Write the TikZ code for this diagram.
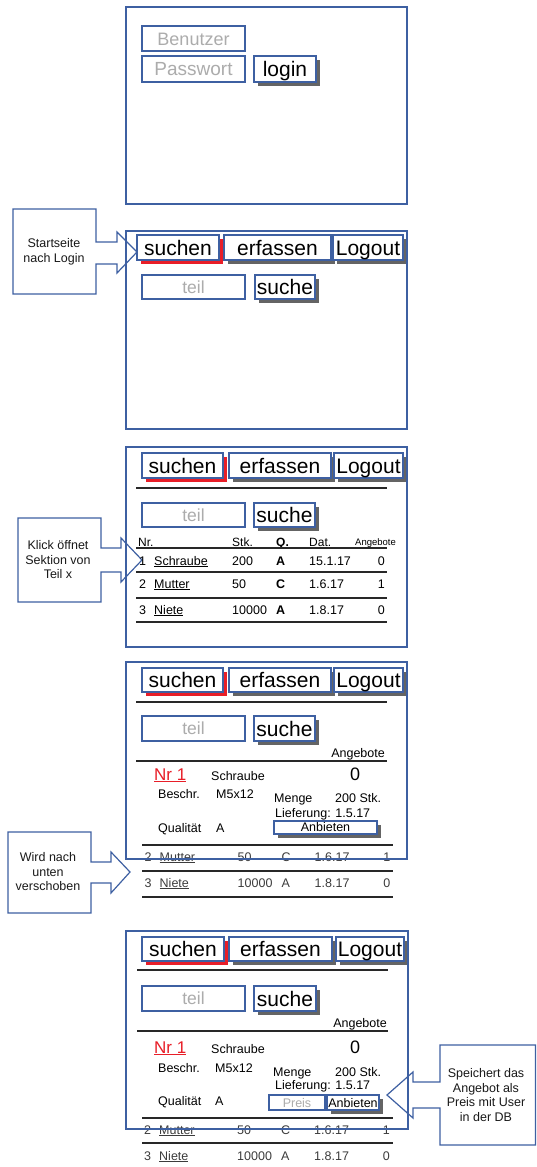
\documentclass[tikz,border=0pt]{standalone}
\usepackage{fontspec}
\setmainfont{Liberation Sans}
\definecolor{uiblue}{RGB}{62,96,162}
\definecolor{uired}{RGB}{232,30,40}
\definecolor{shgray}{RGB}{100,100,100}
\definecolor{phgray}{RGB}{172,172,172}
\definecolor{lineblack}{RGB}{40,40,40}
\definecolor{rowgray}{RGB}{60,60,60}
\definecolor{calltext}{RGB}{25,25,25}
\newcommand{\fBtn}{\fontsize{21}{24}\selectfont}
\newcommand{\fFld}{\fontsize{17.5}{20}\selectfont}
\newcommand{\fSm}{\fontsize{12.5}{14.5}\selectfont}
\newcommand{\fHd}{\fontsize{12}{14}\selectfont}
\newcommand{\fTn}{\fontsize{9.5}{11}\selectfont}
\newcommand{\fBig}{\fontsize{17}{20}\selectfont}
\newcommand{\fZero}{\fontsize{18}{20}\selectfont}
\newcommand{\fCall}{\fontsize{12.5}{14.5}\selectfont}
% button: name, x1, y1, x2, y2, shadow colour, text, font, baseline offset
\newcommand{\uibtn}[9]{%
  \fill[#6] (#2+4,#3+4) rectangle (#4+4,#5+4);
  \draw[boxline] (#2,#3) rectangle (#4,#5);
  \node[lbl,anchor=base,font=#8] (#1) at ({(#2+#4)/2},{(#3+#5)/2+#9}) {#7};
}
% field: name, x1, y1, x2, y2, placeholder, font, baseline offset
\newcommand{\uifield}[8]{%
  \draw[boxline] (#2,#3) rectangle (#4,#5);
  \node[lbl,anchor=base,font=#7,text=phgray] (#1) at ({(#2+#4)/2},{(#3+#5)/2+#8}) {#6};
}
% table row: prefix, baseline, nr, name, stk, q, dat, angebote
\newcommand{\trow}[8]{%
  \node[cell,anchor=base west] (#1n) at (139,#2) {#3};
  \node[cell,anchor=base west] (#1m) at (154,#2) {\underline{#4}};
  \node[cell,anchor=base west] (#1s) at (232,#2) {#5};
  \node[cell,qcol,anchor=base west] (#1q) at (276,#2) {#6};
  \node[cell,anchor=base west] (#1d) at (309,#2) {#7};
  \node[cell,anchor=base east] (#1a) at (385,#2) {#8};
}
\begin{document}
\begin{tikzpicture}[x=1pt,y=-1pt,
  lbl/.style={inner sep=0pt},
  boxline/.style={draw=uiblue,fill=white,line width=1.2pt},
  framebox/.style={draw=uiblue,line width=1.3pt},
  sepline/.style={draw=lineblack,line width=1.5pt},
  tabline/.style={draw=lineblack,line width=1.5pt},
  callout/.style={draw=uiblue,fill=white,line width=1.2pt,line join=miter},
  calltxt/.style={inner sep=0pt,align=center,font=\fCall,text=calltext},
  rowtxt/.style={},
  qcol/.style={font=\fSm\bfseries},
  cell/.style={inner sep=0pt,font=\fSm,rowtxt},
  small/.style={inner sep=0pt,font=\fSm,anchor=base west}]
\useasboundingbox[fill=white] (0,0) rectangle (536,1167);

% ---------- Frame 1: login ----------
\uifield{benutzer}{142}{26}{245}{51}{Benutzer}{\fontsize{18}{20}\selectfont}{6.5}
\uifield{passwort}{142}{56}{245}{82}{Passwort}{\fontsize{19}{21}\selectfont}{6.8}
\uibtn{login}{254}{56}{316}{82}{shgray}{login}{\fBtn}{7.2}

% ---------- Frame 2: start page ----------
\draw[callout] (13,209) -- (96,209) -- (96,242) -- (117,242) -- (117,232) -- (137,252)
  -- (117,273) -- (117,264) -- (96,264) -- (96,294) -- (13,294) -- cycle;
\node[calltxt] (c1) at (54,252) {Startseite\\nach Login};
\uibtn{s2}{137}{235}{219}{260}{uired}{suchen}{\fBtn}{7.5}
\uibtn{e2}{224}{235}{331}{260}{shgray}{erfassen}{\fBtn}{7.5}
\uibtn{l2}{333}{235}{403}{260}{shgray}{Logout}{\fBtn}{7.5}
\uifield{t2}{142}{275}{245}{299}{teil}{\fFld}{6.2}
\uibtn{q2}{255}{275}{315}{299}{shgray}{suche}{\fBtn}{7.5}

% ---------- Frame 3: result list ----------
\draw[callout] (18,518) -- (101,518) -- (101,548) -- (121,548) -- (121,538) -- (142,560)
  -- (121,582) -- (121,572) -- (101,572) -- (101,602) -- (18,602) -- cycle;
\node[calltxt] (c2) at (58,560) {Klick öffnet\\Sektion von\\Teil x};
\uibtn{s3}{142}{453}{223}{478}{uired}{suchen}{\fBtn}{7.5}
\uibtn{e3}{229}{453}{331}{478}{shgray}{erfassen}{\fBtn}{7.5}
\uibtn{l3}{334}{453}{403}{478}{shgray}{Logout}{\fBtn}{7.5}
\draw[sepline] (136,488) -- (387,488);
\uifield{t3}{142}{503}{245}{527}{teil}{\fFld}{6.2}
\uibtn{q3}{254}{503}{315}{527}{shgray}{suche}{\fBtn}{7.5}
\node[lbl,anchor=base west,font=\fHd] (h1) at (138,546) {Nr.};
\node[lbl,anchor=base west,font=\fHd] (h2) at (232,546) {Stk.};
\node[lbl,anchor=base west,font=\fHd\bfseries] (h3) at (276,546) {Q.};
\node[lbl,anchor=base west,font=\fHd] (h4) at (309,546) {Dat.};
\node[lbl,anchor=base west,font=\fTn] (h5) at (355,545) {Angebote};
\draw[tabline] (136,548) -- (387,548);
\trow{r31}{565}{1}{Schraube}{200}{A}{15.1.17}{0}
\draw[tabline] (136,572) -- (387,572);
\trow{r32}{588}{2}{Mutter}{50}{C}{1.6.17}{1}
\draw[tabline] (136,598) -- (387,598);
\trow{r33}{614}{3}{Niete}{10000}{A}{1.8.17}{0}
\draw[tabline] (136,622) -- (387,622);

% ---------- Frame 4: opened section ----------
\draw[callout] (8,832) -- (91,832) -- (91,862) -- (111,862) -- (111,852) -- (130,872)
  -- (111,893) -- (111,883) -- (91,883) -- (91,913) -- (8,913) -- cycle;
\node[calltxt] (c3) at (48,872) {Wird nach\\unten\\verschoben};
\uibtn{s4}{142}{668}{223}{692}{uired}{suchen}{\fBtn}{7.5}
\uibtn{e4}{229}{668}{331}{692}{shgray}{erfassen}{\fBtn}{7.5}
\uibtn{l4}{334}{668}{403}{692}{shgray}{Logout}{\fBtn}{7.5}
\draw[sepline] (136,702) -- (387,702);
\uifield{t4}{142}{716}{245}{741}{teil}{\fFld}{6.2}
\uibtn{q4}{254}{716}{315}{741}{shgray}{suche}{\fBtn}{7.5}
\node[lbl,anchor=base east,font=\fSm] (a4) at (385,757) {Angebote};
\draw[sepline] (136,761) -- (387,761);
\node[lbl,anchor=base west,font=\fBig,text=uired] (nr4) at (154,780) {\underline{Nr 1}};
\node[small] (sc4) at (211,780) {Schraube};
\node[lbl,anchor=base west,font=\fZero] (z4) at (350,780) {0};
\node[small] (b4) at (158,798) {Beschr.};
\node[small] (m4) at (216,798) {M5x12};
\node[small] (me4) at (274,802) {Menge};
\node[small] (st4) at (335,802) {200 Stk.};
\node[small] (li4) at (275,817) {Lieferung: 1.5.17};
\node[small] (qu4) at (158,832) {Qualität};
\node[small] (qa4) at (216,832) {A};
\uibtn{an4}{274}{821}{377}{834}{shgray}{Anbieten}{\fSm}{4}
\begin{scope}[xshift=5.5pt,rowtxt/.style={text=rowgray},qcol/.style={}]
  \draw[tabline] (136.5,845) -- (387.5,845);
  \trow{r42}{861}{2}{Mutter}{50}{C}{1.6.17}{1}
  \draw[tabline] (136.5,871) -- (387.5,871);
  \trow{r43}{887}{3}{Niete}{10000}{A}{1.8.17}{0}
  \draw[tabline] (136.5,897) -- (387.5,897);
\end{scope}

% ---------- Frame 5: offer ----------
\draw[callout] (535.4,1045) -- (440,1045) -- (440,1082) -- (413,1082) -- (413,1072) -- (387,1095)
  -- (413,1118) -- (413,1108) -- (440,1108) -- (440,1145) -- (535.4,1145) -- cycle;
\node[calltxt] (c4) at (486,1095) {Speichert das\\Angebot als\\Preis mit User\\in der DB};
\uibtn{s5}{142}{937}{224}{961}{uired}{suchen}{\fBtn}{7.5}
\uibtn{e5}{229}{937}{332}{961}{shgray}{erfassen}{\fBtn}{7.5}
\uibtn{l5}{336}{937}{404}{961}{shgray}{Logout}{\fBtn}{7.5}
\draw[sepline] (137,970) -- (388,970);
\uifield{t5}{142}{986}{245}{1011}{teil}{\fFld}{6.2}
\uibtn{q5}{254}{986}{316}{1011}{shgray}{suche}{\fBtn}{7.5}
\node[lbl,anchor=base east,font=\fSm] (a5) at (387,1027) {Angebote};
\draw[sepline] (137,1031) -- (388,1031);
\node[lbl,anchor=base west,font=\fBig,text=uired] (nr5) at (154,1053) {\underline{Nr 1}};
\node[small] (sc5) at (211,1053) {Schraube};
\node[lbl,anchor=base west,font=\fZero] (z5) at (350,1053) {0};
\node[small] (b5) at (158,1072) {Beschr.};
\node[small] (m5) at (215,1072) {M5x12};
\node[small] (me5) at (273,1076) {Menge};
\node[small] (st5) at (335,1076) {200 Stk.};
\node[small] (li5) at (275,1089) {Lieferung: 1.5.17};
\node[small] (qu5) at (158,1105) {Qualität};
\node[small] (qa5) at (215,1105) {A};
\uifield{p5}{269}{1095}{325}{1110}{Preis}{\fSm}{4.5}
\uibtn{an5}{327}{1095}{379}{1110}{shgray}{Anbieten}{\fSm}{4.5}
\begin{scope}[xshift=5pt,rowtxt/.style={text=rowgray},qcol/.style={}]
  \draw[tabline] (137,1118) -- (388,1118);
  \trow{r52}{1134}{2}{Mutter}{50}{C}{1.6.17}{1}
  \draw[tabline] (137,1143) -- (388,1143);
  \trow{r53}{1160}{3}{Niete}{10000}{A}{1.8.17}{0}
\end{scope}

% ---------- frames (drawn last, over contents) ----------
\draw[framebox] (126,7) rectangle (407,204);
\draw[framebox] (126,231) rectangle (407,429);
\draw[framebox] (126,447) rectangle (407,647);
\draw[framebox] (126,662) rectangle (407,859);
\draw[framebox] (126,931) rectangle (408,1129);
\end{tikzpicture}
\end{document}
